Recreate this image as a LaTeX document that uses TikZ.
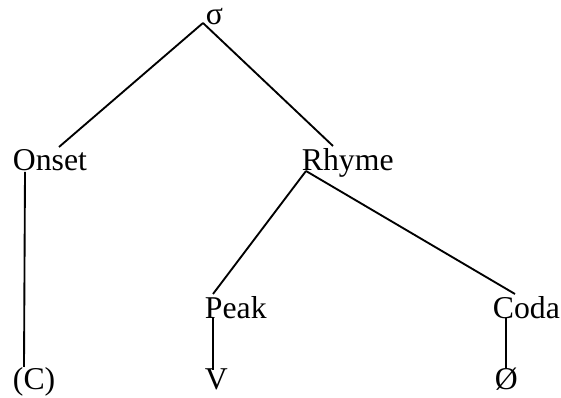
\documentclass[tikz,border=0pt]{standalone}
\usepackage{fontspec}
\setmainfont{Liberation Serif}
\usetikzlibrary{calc}
\tikzset{lbl/.style={anchor=base west, inner sep=0pt, font=\fontsize{23.8}{28}\selectfont}}
\begin{document}
\begin{tikzpicture}[x=0.75pt, y=-0.75pt, line width=1.4pt]
        \useasboundingbox (0,0) rectangle (561,398);
        \node [lbl] (sigma) at (205,25) {σ};
        \node [lbl] (onset) at (12,171) {Onset};
        \node [lbl] (rhyme) at (301,171) {Rhyme};
        \node [lbl] (peak) at (204,319) {Peak};
        \node [lbl] (coda) at (492,319) {Coda};
        \node [lbl] (cons) at (12,390) {(C)};
        \node [lbl] (vowel) at (204,390) {V};
        \node [lbl] (null) at (494,390) {Ø};
        % syllable
        \draw ($(sigma.base west)+(-2,-2)$) -- ($(onset.base west)+(47,-24)$);
        \draw ($(sigma.base west)+(-2,-2)$) -- ($(rhyme.base west)+(32,-25)$);
        % rhyme
        \draw ($(rhyme.base west)+(5,0)$) -- ($(peak.base west)+(9,-25)$);
        \draw ($(rhyme.base west)+(5,0)$) -- ($(coda.base west)+(23,-25)$);
        % segments
        \draw ($(onset.base west)+(13,1)$) -- ($(cons.base west)+(12,-23)$);
        \draw ($(peak.base west)+(9,-1)$) -- ($(vowel.base west)+(9,-20)$);
        \draw ($(coda.base west)+(14,-1)$) -- ($(null.base west)+(12,-22)$);
\end{tikzpicture}
\end{document}
